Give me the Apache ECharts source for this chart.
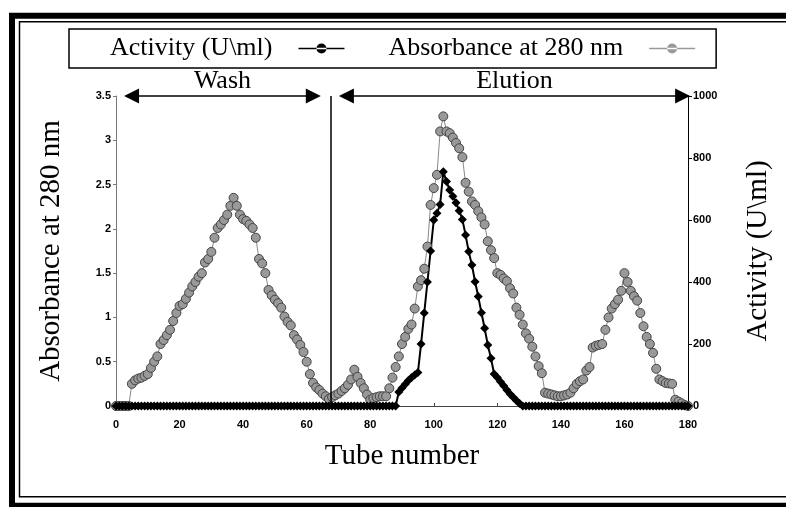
<!DOCTYPE html>
<html>
<head>
<meta charset="utf-8">
<script src="https://cdn.jsdelivr.net/npm/echarts@6/dist/echarts.min.js"></script>
<style>
  html, body { margin: 0; padding: 0; background: #fff; }
  #chart { width: 786px; height: 507px; }
</style>
</head>
<body>
<div id="chart"></div>
<script>
// absorbance at 280 nm for tubes 0..180
var absorbance = [
  0, 0, 0, 0, 0, 0.25, 0.29, 0.31, 0.32, 0.34,
  0.36, 0.43, 0.50, 0.56, 0.70, 0.745, 0.80, 0.86, 0.96, 1.05,
  1.13, 1.15, 1.21, 1.28, 1.35, 1.40, 1.46, 1.50, 1.62, 1.66,
  1.74, 1.90, 2.01, 2.05, 2.10, 2.16, 2.26, 2.35, 2.26, 2.16,
  2.11, 2.09, 2.05, 2.01, 1.90, 1.66, 1.61, 1.50, 1.31, 1.25,
  1.20, 1.16, 1.11, 1.01, 0.95, 0.91, 0.80, 0.75, 0.69, 0.61,
  0.50, 0.36, 0.26, 0.21, 0.18, 0.14, 0.11, 0.08, 0.10, 0.12,
  0.14, 0.17, 0.20, 0.24, 0.30, 0.41, 0.33, 0.26, 0.20, 0.13,
  0.07, 0.09, 0.10, 0.11, 0.11, 0.11, 0.20, 0.32, 0.44, 0.56,
  0.70, 0.78, 0.87, 0.92, 1.10, 1.35, 1.42, 1.55, 1.80, 2.27,
  2.46, 2.61, 3.10, 3.27, 3.10, 3.08, 3.03, 2.97, 2.91, 2.81,
  2.52, 2.42, 2.31, 2.27, 2.20, 2.13, 2.05, 1.86, 1.76, 1.67,
  1.50, 1.48, 1.44, 1.41, 1.33, 1.27, 1.11, 1.03, 0.92, 0.82,
  0.76, 0.67, 0.56, 0.45, 0.37, 0.15, 0.14, 0.13, 0.12, 0.11,
  0.11, 0.12, 0.13, 0.15, 0.20, 0.25, 0.28, 0.30, 0.40, 0.44,
  0.66, 0.68, 0.69, 0.70, 0.86, 1.00, 1.10, 1.15, 1.20, 1.30,
  1.50, 1.40, 1.30, 1.24, 1.19, 1.05, 0.90, 0.78, 0.70, 0.60,
  0.42, 0.30, 0.28, 0.26, 0.255, 0.25, 0.07, 0.05, 0.03, 0.01,
  0
];

// enzyme activity (U\ml) for tubes 0..180
var activity = [
  0, 0, 0, 0, 0, 0, 0, 0, 0, 0,
  0, 0, 0, 0, 0, 0, 0, 0, 0, 0,
  0, 0, 0, 0, 0, 0, 0, 0, 0, 0,
  0, 0, 0, 0, 0, 0, 0, 0, 0, 0,
  0, 0, 0, 0, 0, 0, 0, 0, 0, 0,
  0, 0, 0, 0, 0, 0, 0, 0, 0, 0,
  0, 0, 0, 0, 0, 0, 0, 0, 0, 0,
  0, 0, 0, 0, 0, 0, 0, 0, 0, 0,
  0, 0, 0, 0, 0, 0, 0, 0, 0, 45,
  58, 70, 82, 92, 100, 108, 200, 300, 400, 500,
  600, 622, 650, 756, 724, 697, 677, 656, 630, 602,
  552, 498, 455, 401, 353, 301, 251, 197, 154, 103,
  92, 78, 65, 52, 39, 28, 18, 8, 0, 0,
  0, 0, 0, 0, 0, 0, 0, 0, 0, 0,
  0, 0, 0, 0, 0, 0, 0, 0, 0, 0,
  0, 0, 0, 0, 0, 0, 0, 0, 0, 0,
  0, 0, 0, 0, 0, 0, 0, 0, 0, 0,
  0, 0, 0, 0, 0, 0, 0, 0, 0, 0,
  0
];

// wash / elution arrows (tube numbers) and the divider between them
var washRange = [4.9, 62.1];
var elutionRange = [72.5, 178.3];
var divider = 67.5;

var serif = '"Liberation Serif", "Times New Roman", serif';
var sans = '"Liberation Sans", Arial, sans-serif';

// legend icon: a short line with a dot in the middle
var lineDotIcon = 'path://M0,5.2h46v1.6h-46z M18,6a5,5 0 1,0 10,0a5,5 0 1,0 -10,0z';

var chart = echarts.init(document.getElementById('chart'));

function pairs(arr) {
    return arr.map(function (v, i) { return [i, v]; });
}

var tickLabel = { fontFamily: sans, fontWeight: 'bold', fontSize: 11, color: '#000' };

var option = {
    animation: false,
    backgroundColor: '#fff',
    graphic: [
        { type: 'rect', shape: { x: 12, y: 15.7, width: 800, height: 490 },
          style: { fill: 'none', stroke: '#000', lineWidth: 6 }, silent: true },
        { type: 'rect', shape: { x: 19.5, y: 21.7, width: 800, height: 475 },
          style: { fill: 'none', stroke: '#000', lineWidth: 1.5 }, silent: true }
    ],
    legend: {
        data: [
            { name: 'Activity (U\\ml)', icon: lineDotIcon,
              itemStyle: { color: '#000', borderWidth: 0 } },
            { name: 'Absorbance at 280 nm', icon: lineDotIcon,
              itemStyle: { color: '#999', borderWidth: 0 } }
        ],
        orient: 'horizontal',
        align: 'right',
        left: 69,
        top: 29,
        width: 700,
        padding: [6, 21, 6, 41],
        itemGap: 44,
        itemWidth: 46,
        itemHeight: 12,
        borderColor: '#000',
        borderWidth: 1.5,
        textStyle: { fontFamily: serif, fontSize: 26, color: '#000', lineHeight: 27, padding: [0, 21, 0, 0] }
    },
    grid: { left: 116, right: 98, top: 96, bottom: 101 },
    xAxis: {
        type: 'value',
        min: 0, max: 180, interval: 20,
        name: 'Tube number',
        nameLocation: 'middle',
        nameGap: 36,
        nameTextStyle: { fontFamily: serif, fontSize: 29, color: '#000' },
        axisLine: { lineStyle: { color: '#444', width: 1 } },
        axisTick: { inside: true, length: 3, lineStyle: { color: '#444' } },
        axisLabel: Object.assign({ margin: 13 }, tickLabel),
        splitLine: { show: false }
    },
    yAxis: [
        {
            type: 'value',
            min: 0, max: 3.5, interval: 0.5,
            name: 'Absorbance at 280 nm',
            nameLocation: 'middle',
            nameRotate: 90,
            nameGap: 50,
            nameTextStyle: { fontFamily: serif, fontSize: 29, color: '#000' },
            axisLine: { show: true, lineStyle: { color: '#777', width: 1 } },
            axisTick: { show: true, length: 3, lineStyle: { color: '#777' } },
            axisLabel: Object.assign({ margin: 5 }, tickLabel),
            splitLine: { show: false }
        },
        {
            type: 'value',
            position: 'right',
            min: 0, max: 1000, interval: 200,
            name: 'Activity (U\\ml)',
            nameLocation: 'middle',
            nameRotate: 90,
            nameGap: 56,
            nameTextStyle: { fontFamily: serif, fontSize: 29, color: '#000' },
            axisLine: { show: true, lineStyle: { color: '#000', width: 1 } },
            axisTick: { show: true, length: 4, lineStyle: { color: '#000' } },
            axisLabel: Object.assign({ margin: 5, formatter: function (v) { return String(v); } }, tickLabel),
            splitLine: { show: false }
        }
    ],
    series: [
        {
            name: 'Absorbance at 280 nm',
            type: 'line',
            yAxisIndex: 0,
            data: pairs(absorbance),
            symbol: 'circle',
            symbolSize: 9,
            showAllSymbol: true,
            clip: false,
            itemStyle: { color: '#999', borderColor: '#444', borderWidth: 1 },
            lineStyle: { color: '#888', width: 1 },
            markLine: {
                silent: true,
                symbol: ['triangle', 'triangle'],
                symbolSize: 15,
                lineStyle: { color: '#000', width: 1.5, type: 'solid' },
                label: { show: true, position: 'middle', distance: 2,
                         fontFamily: serif, fontSize: 26, color: '#000' },
                data: [
                    [{ coord: [washRange[0], 3.5], label: { formatter: 'Wash' } },
                     { coord: [washRange[1], 3.5] }],
                    [{ coord: [elutionRange[0], 3.5], label: { formatter: 'Elution' } },
                     { coord: [elutionRange[1], 3.5] }],
                    [{ coord: [divider, 0], symbol: 'none', label: { show: false } },
                     { coord: [divider, 3.5], symbol: 'none' }]
                ]
            }
        },
        {
            name: 'Activity (U\\ml)',
            type: 'line',
            yAxisIndex: 1,
            data: pairs(activity),
            symbol: 'diamond',
            symbolSize: 9,
            showAllSymbol: true,
            clip: false,
            itemStyle: { color: '#000' },
            lineStyle: { color: '#000', width: 2 }
        }
    ]
};

chart.setOption(option);
</script>
</body>
</html>
